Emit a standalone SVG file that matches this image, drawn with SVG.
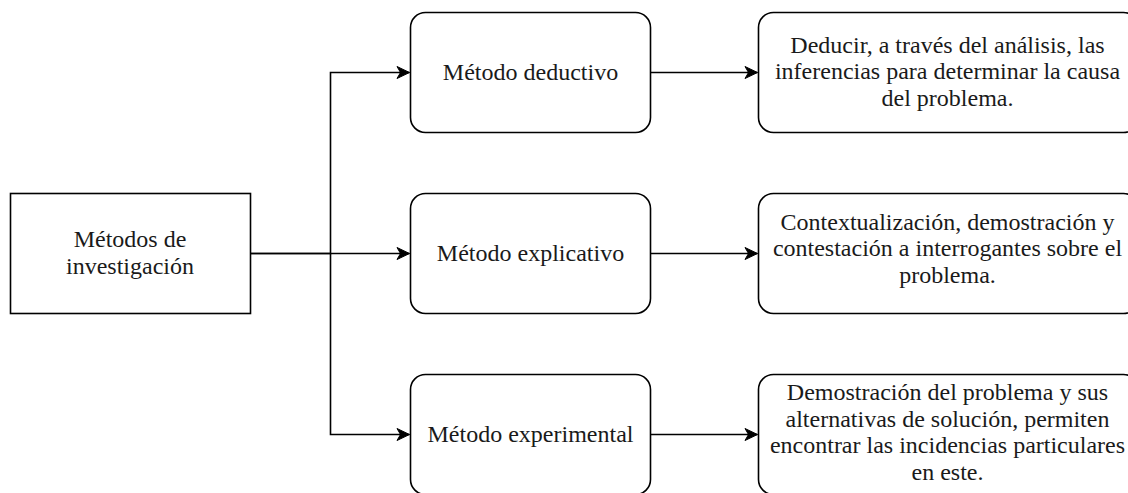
<svg xmlns="http://www.w3.org/2000/svg" width="1128" height="493" viewBox="0 0 1128 493">
  <style>
    .box { fill: #ffffff; stroke: #000000; stroke-width: 1.6; }
    .lbl { font-family: "Liberation Serif", "Times New Roman", Times, serif; font-size: 24px; fill: #1a1a1a; text-anchor: middle; }
    .edge { fill: none; stroke: #000000; stroke-width: 1.6; }
  </style>
  <defs>
    <marker id="arrow" markerUnits="userSpaceOnUse" markerWidth="16" markerHeight="16" refX="14" refY="8" orient="auto">
      <path d="M1.5,2 L14,8 L1.5,14 L5,8 Z" fill="#000000" stroke="#000000" stroke-width="1"/>
    </marker>
  </defs>
  <rect width="1128" height="493" fill="#ffffff"/>

  <g id="connectors">
    <path class="edge" d="M250.5,253.5 H330.5 V72.5 H409.5" marker-end="url(#arrow)"/>
    <path class="edge" d="M250.5,253.5 H409.5" marker-end="url(#arrow)"/>
    <path class="edge" d="M330.5,253.5 V434.5 H409.5" marker-end="url(#arrow)"/>
    <path class="edge" d="M650.5,72.5 H757.5" marker-end="url(#arrow)"/>
    <path class="edge" d="M650.5,253.5 H757.5" marker-end="url(#arrow)"/>
    <path class="edge" d="M650.5,434.5 H757.5" marker-end="url(#arrow)"/>
  </g>

  <g id="metodos-investigacion">
    <rect class="box" x="10.5" y="193.5" width="240" height="120"/>
    <text class="lbl" x="130" y="247">Métodos de</text>
    <text class="lbl" x="130" y="273.7">investigación</text>
  </g>

  <g id="metodo-deductivo">
    <rect class="box" x="410.5" y="12.5" width="240" height="120" rx="15" ry="15"/>
    <text class="lbl" x="530.5" y="80">Método deductivo</text>
  </g>
  <g id="metodo-explicativo">
    <rect class="box" x="410.5" y="193.5" width="240" height="120" rx="15" ry="15"/>
    <text class="lbl" x="530.5" y="261">Método explicativo</text>
  </g>
  <g id="metodo-experimental">
    <rect class="box" x="410.5" y="374.5" width="240" height="120" rx="15" ry="15"/>
    <text class="lbl" x="530.5" y="442">Método experimental</text>
  </g>

  <g id="desc-deductivo">
    <rect class="box" x="758.5" y="12.5" width="380" height="120" rx="15" ry="15"/>
    <text class="lbl" x="947.5" y="52.7">Deducir, a través del análisis, las</text>
    <text class="lbl" x="947.5" y="79.4">inferencias para determinar la causa</text>
    <text class="lbl" x="947.5" y="106.1">del problema.</text>
  </g>
  <g id="desc-explicativo">
    <rect class="box" x="758.5" y="193.5" width="380" height="120" rx="15" ry="15"/>
    <text class="lbl" x="947.5" y="229.5">Contextualización, demostración y</text>
    <text class="lbl" x="947.5" y="256.2">contestación a interrogantes sobre el</text>
    <text class="lbl" x="947.5" y="282.9">problema.</text>
  </g>
  <g id="desc-experimental">
    <rect class="box" x="758.5" y="374.5" width="380" height="120" rx="15" ry="15"/>
    <text class="lbl" x="947.5" y="400">Demostración del problema y sus</text>
    <text class="lbl" x="947.5" y="426.7">alternativas de solución, permiten</text>
    <text class="lbl" x="947.5" y="453.4">encontrar las incidencias particulares</text>
    <text class="lbl" x="947.5" y="480.1">en este.</text>
  </g>
</svg>
